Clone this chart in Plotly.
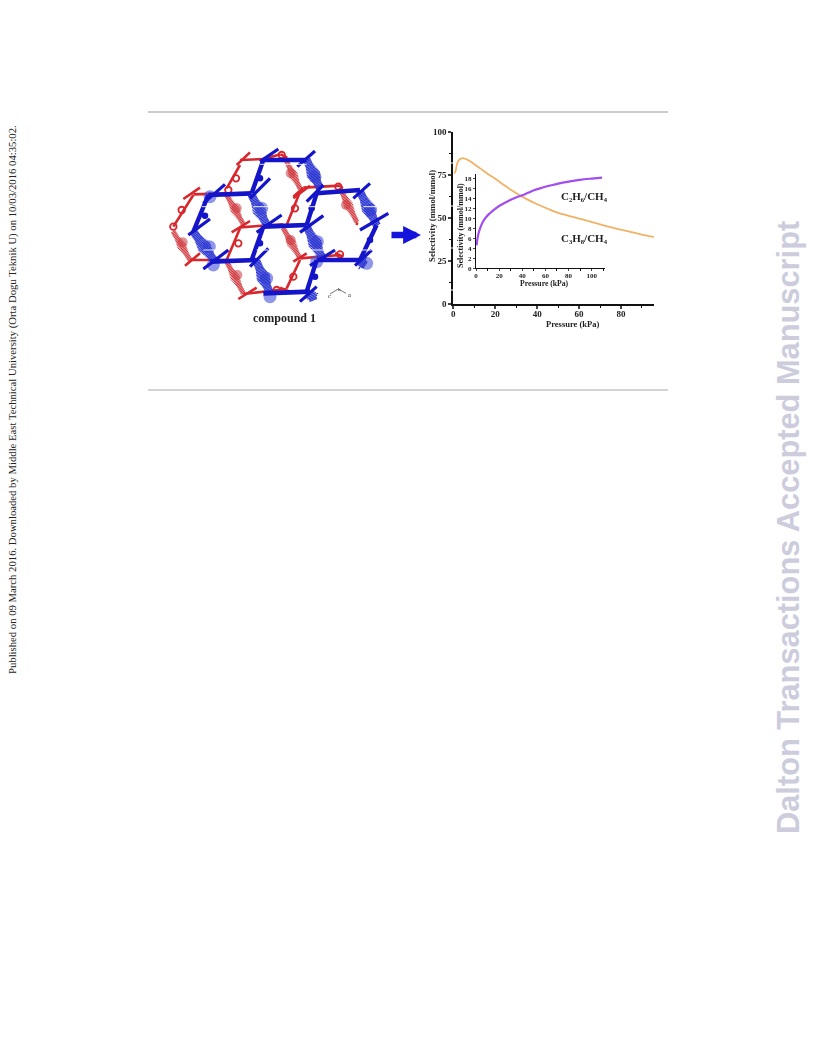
import plotly.graph_objects as go

W, H = 816, 1056

# ---------- chart data ----------
main_x_ticks = [0, 20, 40, 60, 80]
main_y_ticks = [0, 25, 50, 75, 100]
c3h8_pressure = [0.3, 0.8, 1.2, 1.7, 2.3, 3, 4, 5, 6, 8, 10, 13, 16, 20, 24, 28, 32, 36, 40, 45, 50, 55, 60, 65, 70, 75, 80, 85, 90, 95.8]
c3h8_selectivity = [76, 76.5, 78, 81, 83, 84, 84.7, 84.7, 84.3, 83, 81.3, 78.7, 76, 72.8, 69.3, 66, 63, 60.4, 58, 55.4, 53, 51.3, 49.7, 48, 46.3, 44.7, 43.2, 41.8, 40.4, 39]

inset_x_ticks = [0, 20, 40, 60, 80, 100]
inset_y_ticks = [0, 2, 4, 6, 8, 10, 12, 14, 16, 18]
c2h6_pressure = [0.5, 1, 2, 3.5, 6, 9, 12, 16, 21, 25, 30, 35, 40, 45, 50, 57, 65, 72, 79, 90, 100, 109]
c2h6_selectivity = [4.6, 5.5, 6.8, 8.0, 9.3, 10.3, 11.0, 11.8, 12.6, 13.1, 13.7, 14.2, 14.6, 15.1, 15.6, 16.1, 16.6, 17.0, 17.3, 17.7, 17.95, 18.15]

# ---------- framework illustration (pixel positions of the page) ----------
red_thin = [(240,45,310,42),(310,42,362,28),(362,28,382,38),(100,148,200,145),(70,162,120,128),(400,155,430,128),(430,128,540,122),(540,122,548,130),
            (240,247,370,238),(215,262,270,228),(75,362,120,325),(90,345,200,345),(400,350,440,325),(420,340,540,330),(525,325,550,335),
            (235,462,290,428),(250,447,380,432),(360,428,390,440),(240,60,200,130),(420,140,380,240),(240,250,200,345),(420,345,380,430),(100,150,40,245),
            (590,240,592,232),(230,60,270,22),(400,160,450,122)]
red_rings = [(228,100),(405,190),(235,295),(400,395),(65,195),(40,245),(365,30),(205,135),(535,125),(350,435),(540,328)]
red_ladder = [(200,150,250,238),(380,50,420,130),(540,130,590,230),(370,250,420,340),(200,350,250,445),(40,260,90,345)]
red_blobs = [(230,190),(392,85),(558,180),(392,285),(232,390),(68,292)]

blue_bars = [(310,45,440,45),(145,150,275,145),(470,145,600,135),(310,245,440,240),(150,350,290,345),(470,345,600,345),(310,445,450,440)]
blue_stubs = [(300,50,355,12),(412,65,465,18),(130,175,195,118),(270,160,330,100),(440,170,490,120),(580,160,630,115),
              (290,262,365,210),(420,262,490,212),(600,255,685,205),(130,372,205,315),(270,365,325,310),(450,362,525,315),(585,362,635,315),
              (85,270,150,222),(420,470,470,425)]
blue_thin = [(310,45,275,145),(470,145,440,240),(310,245,275,345),(145,150,100,260),(650,240,600,345),(470,345,440,440)]
blue_ladder = [(440,45,480,130),(275,150,320,240),(600,140,650,240),(440,245,490,345),(100,260,165,350),(290,350,330,445),(600,350,615,360),(450,440,460,465)]
blue_blobs = [(465,95),(305,190),(632,195),(472,290),(148,305),(320,400),(330,455),(160,360),(620,355),(150,155),(470,350)]
blue_knots = [(135,212),(300,100),(455,190),(300,295),(630,285),(465,395)]

white_gaps = [(300,58,440,58),(125,185,160,185),(280,185,330,185),(440,185,495,185),(610,185,650,185),(130,315,175,315),(290,315,325,315),(450,315,500,315),(590,315,635,315)]

arrow_head_tail = [(388.5, 235), (421, 235)]
axis_gaps_y = [163, 206, 248, 290]


def zx(v):
    return 160 + v / 3


def zy(v):
    return 145 + v / 3


def px(x):
    return x / W


def py(y):
    return 1 - y / H


fig = go.Figure()

# page overlay axes in page pixels
fig.update_layout(
    xaxis9=dict(domain=[0, 1], range=[0, W], visible=False, fixedrange=True),
    yaxis9=dict(domain=[0, 1], range=[H, 0], visible=False, fixedrange=True),
)


def segs(list_, color, width):
    xs, ys = [], []
    for a, b, c, d in list_:
        xs += [zx(a), zx(c), None]
        ys += [zy(b), zy(d), None]
    fig.add_trace(go.Scatter(x=xs, y=ys, mode="lines", line=dict(color=color, width=width), xaxis="x9", yaxis="y9", showlegend=False, hoverinfo="skip"))


def ladder(list_, color, width, rung, bulge):
    xs, ys = [], []
    for a, b, c, d in list_:
        a, b, c, d = zx(a), zy(b), zx(c), zy(d)
        dx, dy = c - a, d - b
        ln = (dx * dx + dy * dy) ** 0.5
        n = max(int(ln / 1.4), 2)
        for i in range(n + 1):
            t = i / n
            # rungs widen into the ring in the middle of each linker
            r = rung + bulge * max(0.0, 1 - abs(t - 0.5) / 0.3)
            ux, uy = -dy / ln * r, dx / ln * r
            xs += [a + dx * t - ux, a + dx * t + ux, None]
            ys += [b + dy * t - uy, b + dy * t + uy, None]
    fig.add_trace(go.Scatter(x=xs, y=ys, mode="lines", line=dict(color=color, width=width), xaxis="x9", yaxis="y9", showlegend=False, hoverinfo="skip"))


def blobs(list_, color, size, line=None, lw=0):
    fig.add_trace(go.Scatter(x=[zx(p[0]) for p in list_], y=[zy(p[1]) for p in list_], mode="markers",
                             marker=dict(color=color, size=size, line=dict(color=line or color, width=lw)),
                             xaxis="x9", yaxis="y9", showlegend=False, hoverinfo="skip"))


RED = "#d8272c"
BLUE = "#1414c8"
segs(red_ladder, "rgba(215,80,85,0.5)", 5)
blobs(red_blobs, "rgba(205,70,75,0.6)", 10)
ladder(red_ladder, "#d0383e", 1.0, 2.4, 2.4)
segs(red_thin, RED, 2.6)
blobs(red_rings, "rgba(0,0,0,0)", 6.5, RED, 1.8)
segs(blue_ladder, "rgba(70,80,220,0.55)", 8)
blobs(blue_blobs, "rgba(70,80,220,0.6)", 13)
ladder(blue_ladder, "#2a34d0", 1.1, 4.0, 3.0)
segs(blue_thin, BLUE, 4.4)
blobs(blue_knots, BLUE, 6.5)
segs(blue_stubs, BLUE, 3.2)
segs(blue_bars, BLUE, 4.6)
segs(white_gaps, "white", 0.9)

TICK = dict(family="Liberation Serif", size=9, color="#222")
TICK2 = dict(family="Liberation Serif", size=7, color="#222")

# main chart
x0, x1, y_top, y_bot = 453.3, 654, 132, 304
fig.update_layout(
    xaxis=dict(domain=[px(x0), px(x1)], range=[0, (x1 - x0) / 2.096], anchor="y",
               tickmode="array", tickvals=main_x_ticks, ticktext=[f"<b>{t}</b>" for t in main_x_ticks],
               ticks="outside", ticklen=3, tickwidth=1.5, ticklabelstandoff=-3,
               minor=dict(dtick=10, ticks="outside", ticklen=2, tickwidth=1, tickcolor="#111"),
               showgrid=False, zeroline=False, showline=True, linecolor="#111", linewidth=1.8,
               tickfont=TICK, fixedrange=True),
    yaxis=dict(domain=[py(y_bot), py(y_top)], range=[0, 100], anchor="x",
               tickmode="array", tickvals=main_y_ticks, ticktext=[f"<b>{t}</b>" for t in main_y_ticks],
               ticks="outside", ticklen=3, tickwidth=1.5,
               minor=dict(dtick=12.5, ticks="outside", ticklen=2, tickwidth=1, tickcolor="#111"),
               showgrid=False, zeroline=False, showline=True, linecolor="#111", linewidth=1.8,
               tickfont=TICK, fixedrange=True),
)
fig.add_trace(go.Scatter(x=c3h8_pressure, y=c3h8_selectivity, mode="lines", line=dict(color="#f2b266", width=1.8, shape="spline"), xaxis="x", yaxis="y", showlegend=False))

# inset
ix0, ix1, iy_top, iy_bot = 476, 605, 174, 268.3
fig.update_layout(
    xaxis2=dict(domain=[px(ix0), px(ix1)], range=[0, (ix1 - ix0) / 1.157], anchor="y2",
                tickmode="array", tickvals=inset_x_ticks, ticktext=[f"<b>{t}</b>" for t in inset_x_ticks],
                ticks="outside", ticklen=2, tickwidth=1, ticklabelstandoff=-2,
                minor=dict(dtick=10, ticks="outside", ticklen=1.5, tickwidth=0.8, tickcolor="#111"),
                showgrid=False, zeroline=False, showline=True, linecolor="#111", linewidth=1.2,
                tickfont=TICK2, fixedrange=True),
    yaxis2=dict(domain=[py(iy_bot), py(iy_top)], range=[0, (iy_bot - iy_top) / 5.0], anchor="x2",
                tickmode="array", tickvals=inset_y_ticks, ticktext=[f"<b>{t}</b>" for t in inset_y_ticks],
                ticks="outside", ticklen=2, tickwidth=1,
                showgrid=False, zeroline=False, showline=True, linecolor="#111", linewidth=1.2,
                tickfont=TICK2, fixedrange=True),
)
fig.add_trace(go.Scatter(x=c2h6_pressure, y=c2h6_selectivity, mode="lines", line=dict(color="#a24df0", width=2.2, shape="spline"), xaxis="x2", yaxis="y2", showlegend=False))

# blue block arrow
fig.add_annotation(xref="x9", yref="y9", axref="x9", ayref="y9", x=arrow_head_tail[1][0], y=arrow_head_tail[1][1],
                   ax=arrow_head_tail[0][0], ay=arrow_head_tail[0][1], text=" ", showarrow=True, arrowhead=2, arrowsize=0.55, arrowwidth=6.5, arrowcolor="#1414dc")


def label(x, y, text, size, family="Liberation Serif", color="#222", angle=0, anchor="center"):
    fig.add_annotation(xref="x9", yref="y9", x=x, y=y, text=text, showarrow=False, textangle=angle, xanchor=anchor, yanchor="middle",
                       font=dict(family=family, size=size, color=color))


label(572, 323.5, "<b>Pressure (kPa)</b>", 8.5)
label(432, 216, "<b>Selectivity (mmol/mmol)</b>", 8.8, angle=-90)
label(544, 283, "<b>Pressure (kPa)</b>", 7.7)
label(460, 226, "<b>Selectivity (mmol/mmol)</b>", 8.1, angle=-90)
label(584, 196, "<b>C₂H₆/CH₄</b>", 11)
label(584, 238, "<b>C₃H₈/CH₄</b>", 11)
label(284, 318, "<b>compound 1</b>", 12)
label(349, 294, "a", 6.5)
label(339, 289, "b", 5)
label(329, 295, "c", 6.5)
segs([(510,447,535,432),(535,432,558,445)], "#555", 0.8)

label(12, 400, "Published on 09 March 2016. Downloaded by Middle East Technical University (Orta Dogu Teknik U) on 10/03/2016 04:35:02.",
      10.7, angle=-90)
label(788, 528, "<b>Dalton Transactions Accepted Manuscript</b>", 30.8, family="Liberation Sans", color="#ccccdd", angle=-90)

fig.update_layout(
    width=W, height=H, autosize=False, margin=dict(l=0, r=0, t=0, b=0, pad=0, autoexpand=False), paper_bgcolor="white", plot_bgcolor="rgba(0,0,0,0)", showlegend=False,
    shapes=[
        dict(type="line", xref="paper", yref="paper", x0=px(148), x1=px(668), y0=py(112), y1=py(112), line=dict(color="#999", width=1)),
        dict(type="line", xref="paper", yref="paper", x0=px(148), x1=px(668), y0=py(390), y1=py(390), line=dict(color="#aaa", width=1)),
    ] + [dict(type="line", xref="paper", yref="paper", x0=px(451), x1=px(456), y0=py(g), y1=py(g), line=dict(color="white", width=1), layer="above") for g in axis_gaps_y],
)

soften = """
document.body.style.margin='0';
document.documentElement.style.overflow='hidden';
document.querySelectorAll('.cartesianlayer').forEach(function(e){e.style.filter='blur(0.7px)';});
var notes=document.querySelectorAll('.annotation');
notes.forEach(function(e,i){ if(i<notes.length-2){e.style.filter='blur(0.5px)';} });
"""
fig.write_html("out.html", config={"displayModeBar": False, "responsive": False}, post_script=soften)
